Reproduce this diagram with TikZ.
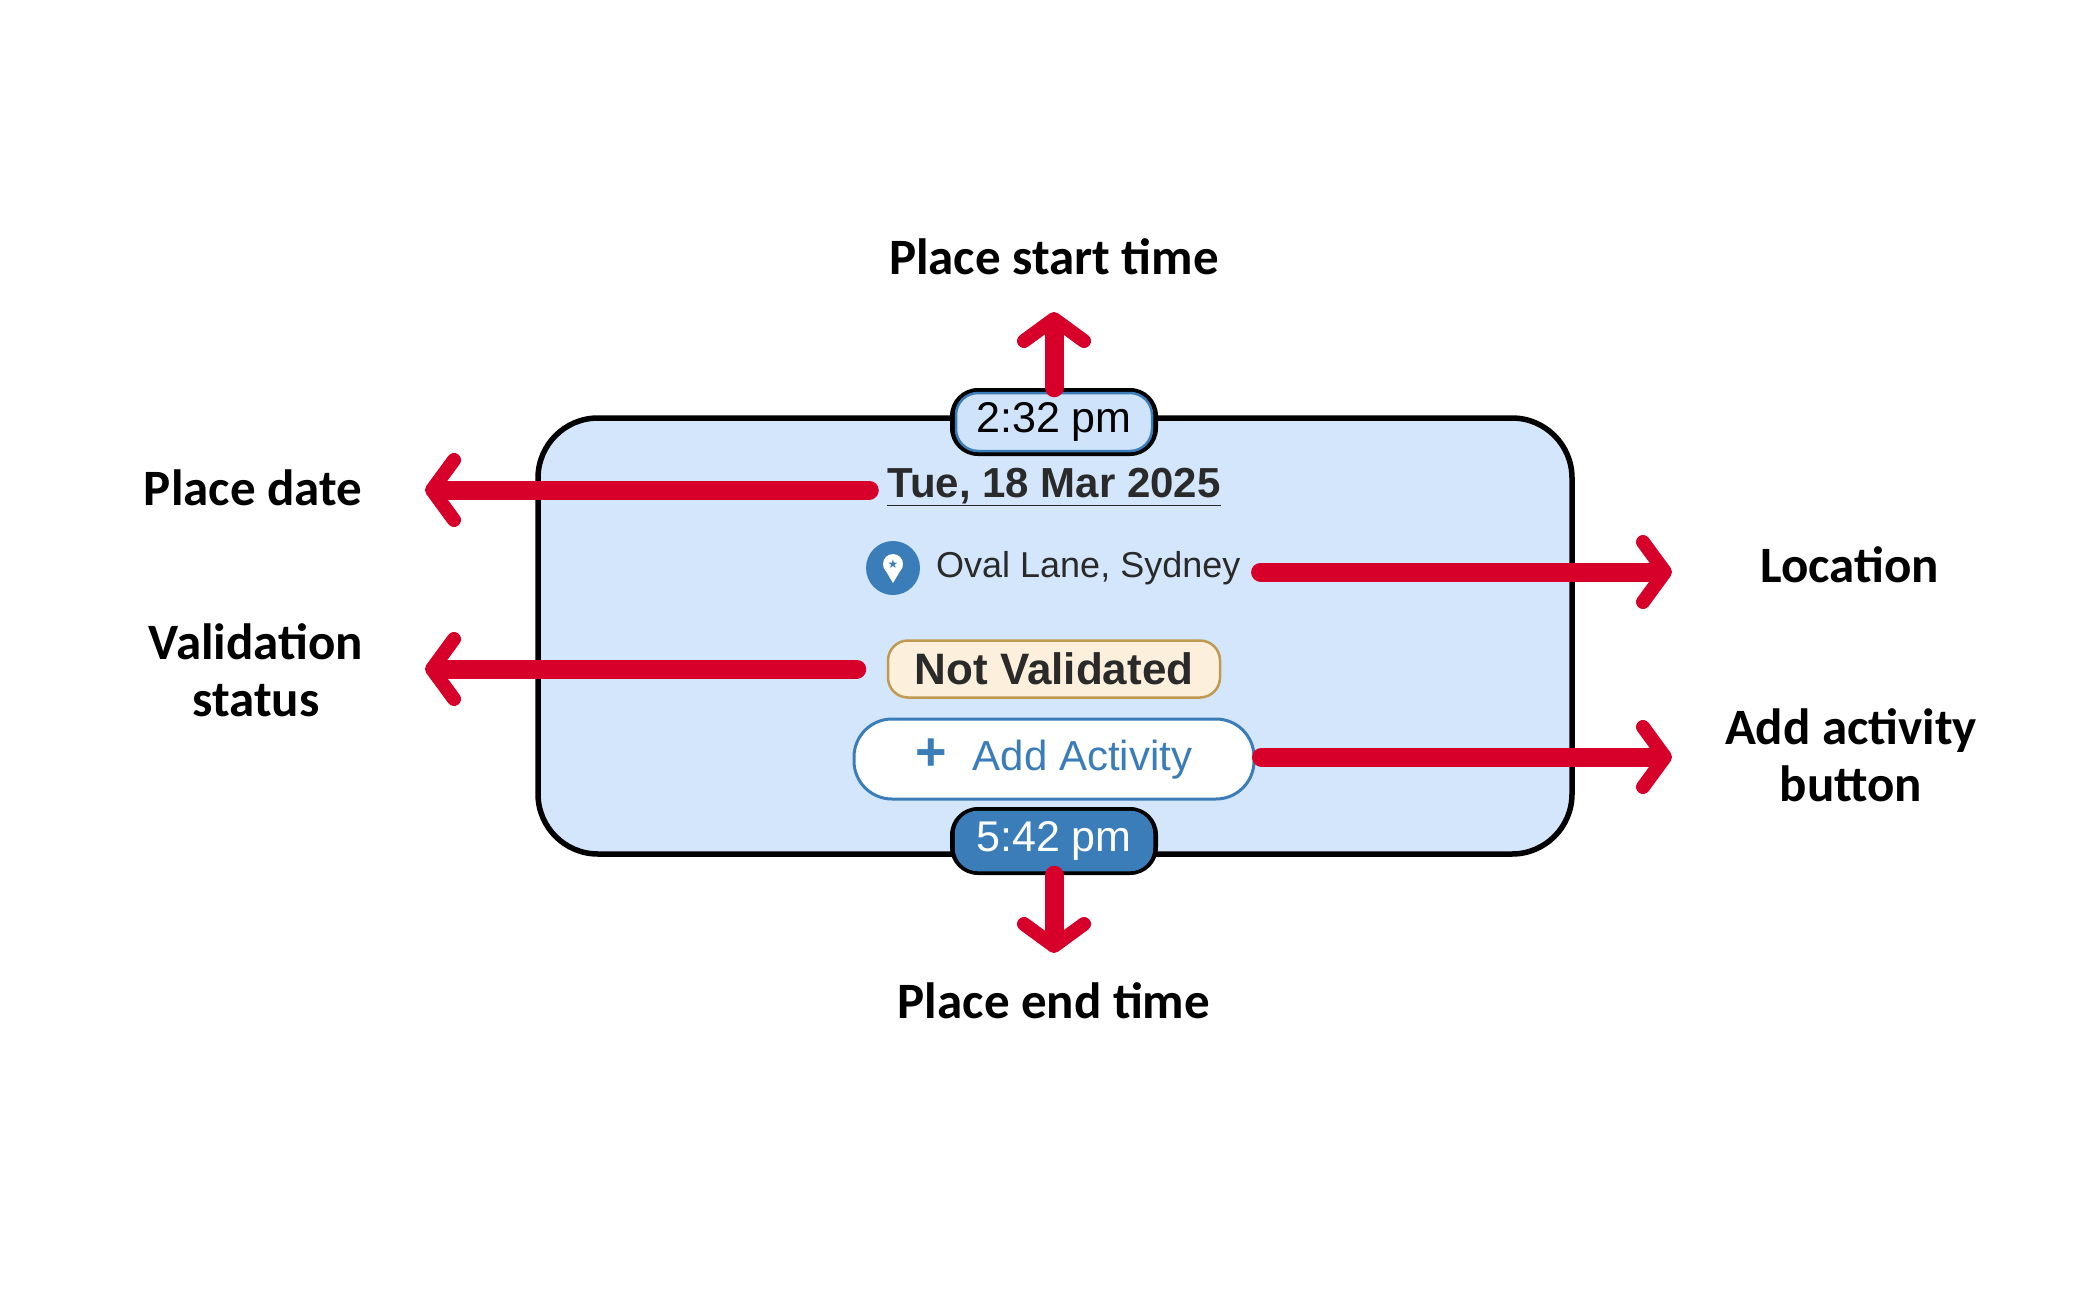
\documentclass[tikz,border=0pt]{standalone}
\usepackage{fontspec}
\setmainfont{Liberation Sans}
\newfontfamily\lab{Carlito}
\newfontfamily\dejavu{DejaVu Sans}
\usetikzlibrary{arrows.meta}
\definecolor{cardfill}{HTML}{D3E6FB}
\definecolor{pillblue}{HTML}{3A7DB9}
\definecolor{pilllight}{HTML}{CFE4FA}
\definecolor{redarr}{HTML}{D7002A}
\definecolor{tagfill}{HTML}{FCF0DC}
\definecolor{tagline}{HTML}{C09A50}
\definecolor{txt}{HTML}{2A2A2A}
\tikzset{
  lbl/.style={font=\lab\bfseries\fontsize{51}{57}\selectfont, align=center, text=black},
  redarrow/.style={draw=redarr, line width=19pt, line cap=round,
     -{Straight Barb[length=22pt,width=60pt,line width=14pt,round]}},
  pill/.style={rounded corners=22pt, minimum width=196pt, minimum height=58pt, line width=2.5pt, inner sep=0pt},
}
\begin{document}
\begin{tikzpicture}[x=1pt,y=-1pt]
\useasboundingbox (0,0) rectangle (2099,1311);
% card
\draw[line width=5.5pt, fill=cardfill, rounded corners=60pt] (538,418) rectangle (1572,854);
% bumps
\fill[black, rounded corners=28pt] (950,388) rectangle (1158,456);
\fill[black, rounded corners=28pt] (950,807) rectangle (1158,875);
\node[pill, draw=pillblue, fill=pilllight, font=\fontsize{43}{45}\selectfont, text=black] (st) at (1054,422) {2:32 pm};
\node[pill, draw=pillblue, fill=pillblue, font=\fontsize{43}{45}\selectfont, text=white] (et) at (1054,841) {5:42 pm};
% date
\node[font=\bfseries\fontsize{42}{44}\selectfont, text=txt, inner sep=0pt] (date) at (1054,487) {\underline{Tue, 18 Mar 2025}};
% location
\node[circle, fill=pillblue, minimum size=54pt, inner sep=0pt] (pin) at (893,568) {};
\fill[white] ([yshift=4pt]pin.center) circle (10pt);
\fill[white] ([xshift=-9.5pt,yshift=1pt]pin.center) -- ([xshift=9.5pt,yshift=1pt]pin.center) -- ([yshift=-15pt]pin.center) -- cycle;
\node[text=pillblue, font=\dejavu\fontsize{12}{12}\selectfont, inner sep=0pt] at ([yshift=4pt]pin.center) {★};
\node[anchor=west, font=\fontsize{36}{40}\selectfont, text=txt, inner sep=0pt] (loc) at (936,568) {Oval Lane, Sydney};
% not validated
\node[draw=tagline, fill=tagfill, line width=2.5pt, rounded corners=20pt, minimum width=332pt, minimum height=57pt,
  font=\bfseries\fontsize{44}{46}\selectfont, text=txt] (nv) at (1054,669) {Not Validated};
% add activity
\node[draw=pillblue, fill=white, line width=3pt, rounded corners=38pt, minimum width=400pt, minimum height=80pt,
  font=\fontsize{42}{44}\selectfont, text=pillblue] (add) at (1054,759) {{\fontsize{54}{54}\selectfont\textbf{+}}\,\, Add Activity};
% labels
\node[lbl] (lst) at (1054,257) {Place start time};
\node[lbl] (let) at (1054,1001) {Place end time};
\node[lbl] (ldate) at (253,488) {Place date};
\node[lbl] (lval) at (256,670) {Validation\\status};
\node[lbl] (lloc) at (1850,565) {Location};
\node[lbl] (ladd) at (1851,755) {Add activity\\button};
% arrows
\coordinate (a1) at (1054,312); \coordinate (a2) at (1054,953);
\coordinate (a3) at (425,490); \coordinate (a4) at (425,669);
\coordinate (a5) at (1672,572); \coordinate (a6) at (1672,757);
\draw[redarrow] ([yshift=4pt]st.north) -- (a1);
\draw[redarrow] ([yshift=-4pt]et.south) -- (a2);
\draw[redarrow] ([xshift=-18pt]a3 -| date.west) -- (a3);
\draw[redarrow] ([xshift=-30pt]a4 -| nv.west) -- (a4);
\draw[redarrow] ([xshift=20pt]a5 -| loc.east) -- (a5);
\draw[redarrow] ([xshift=6pt]a6 -| add.east) -- (a6);
\end{tikzpicture}
\end{document}
